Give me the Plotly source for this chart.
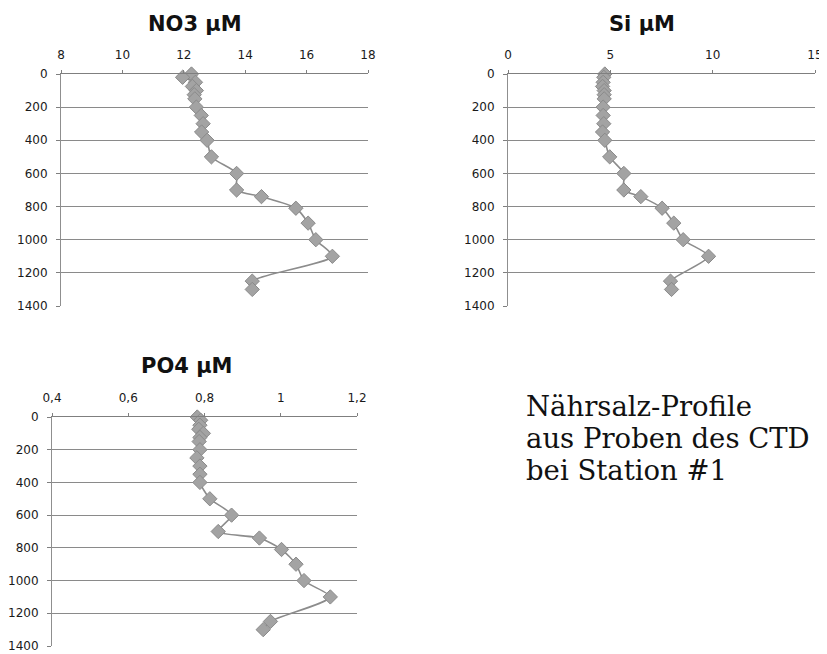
import plotly.graph_objects as go

W, H = 827, 654
OFF = 8  # page body margin in the browser
FW, FH = W - OFF, H - OFF

depth_m = [0, 20, 50, 75, 100, 125, 150, 200, 250, 300, 350, 400, 500, 600,
           700, 740, 810, 900, 1000, 1100, 1250, 1300]
no3_uM = [12.25, 11.96, 12.38, 12.28, 12.41, 12.34, 12.36, 12.41, 12.57, 12.63,
          12.58, 12.76, 12.90, 13.72, 13.72, 14.53, 15.65, 16.05, 16.30, 16.84,
          14.23, 14.23]
si_uM = [4.73, 4.68, 4.65, 4.62, 4.70, 4.70, 4.70, 4.65, 4.65, 4.68, 4.62, 4.73,
         4.97, 5.66, 5.66, 6.49, 7.53, 8.10, 8.56, 9.80, 7.94, 7.99]
po4_uM = [0.781, 0.790, 0.788, 0.785, 0.797, 0.788, 0.786, 0.788, 0.780, 0.788,
          0.788, 0.788, 0.814, 0.871, 0.836, 0.944, 1.002, 1.040, 1.061, 1.130,
          0.973, 0.954]

titles = ["NO3 µM", "Si µM", "PO4 µM"]
x_ranges = [[8, 18], [0, 15], [0.4, 1.2]]
x_dticks = [2, 5, 0.2]
depth_range = [1400, 0]
depth_dtick = 200
caption_lines = ["Nährsalz-Profile", "aus Proben des CTD", "bei Station #1"]

# panel boxes in page pixels: (left, right, top, bottom)
boxes = [(61, 368, 74, 306), (508, 815, 74, 306), (52, 357, 417, 646)]
title_pos = [(195, 24), (642, 24), (187, 366)]

def px_x(v):
    return (v - OFF) / FW

def px_y(v):
    return 1 - (v - OFF) / FH

fig = go.Figure()
series = [no3_uM, si_uM, po4_uM]
tick_font = dict(family="DejaVu Sans", size=12, color="#1a1a1a")
layout = {}
for i, (vals, box) in enumerate(zip(series, boxes)):
    n = "" if i == 0 else str(i + 1)
    fig.add_trace(go.Scatter(
        x=vals, y=depth_m, xaxis="x" + n, yaxis="y" + n, mode="lines+markers",
        line=dict(color="#8c8c8c", width=1.6, shape="spline", smoothing=0.7),
        marker=dict(symbol="diamond", size=11, color="#a3a3a3",
                    line=dict(color="#8a8a8a", width=1)),
        showlegend=False, cliponaxis=False))
    l, r, t, b = box
    layout["xaxis" + n] = dict(
        domain=[px_x(l), px_x(r)], range=x_ranges[i], dtick=x_dticks[i],
        tick0=x_ranges[i][0], side="top", anchor="y" + n, showgrid=False,
        showline=True, linecolor="#7f7f7f", linewidth=1, ticks="outside",
        ticklen=3, tickcolor="#7f7f7f", tickfont=tick_font, zeroline=False,
        ticklabelstandoff=6, automargin=False)
    layout["yaxis" + n] = dict(
        domain=[px_y(b), px_y(t)], range=depth_range, dtick=depth_dtick,
        anchor="x" + n, showgrid=True, gridcolor="#8a8a8a", gridwidth=1,
        showline=True, linecolor="#8f8f8f", linewidth=1, ticks="outside",
        ticklen=4, tickcolor="#7f7f7f", tickfont=tick_font, zeroline=False,
        ticklabelstandoff=6, automargin=False)

annotations = []
for (tx, ty), tt in zip(title_pos, titles):
    annotations.append(dict(text="<b>" + tt + "</b>", x=px_x(tx), y=px_y(ty),
                            xref="paper", yref="paper", xanchor="center",
                            yanchor="middle", showarrow=False,
                            font=dict(family="DejaVu Sans", size=21, color="#111")))
for k, line in enumerate(caption_lines):
    annotations.append(dict(text=line, x=px_x(525), y=px_y(406 + 32 * k),
                            xref="paper", yref="paper", xanchor="left",
                            yanchor="middle", showarrow=False, borderpad=0,
                            font=dict(family="DejaVu Serif", size=27.5,
                                      color="#111")))

fig.update_layout(
    width=FW, height=FH, margin=dict(l=0, r=0, t=0, b=0, autoexpand=False),
    paper_bgcolor="white", plot_bgcolor="white", separators=", ",
    annotations=annotations, **layout)

fig.write_html("out.html")
